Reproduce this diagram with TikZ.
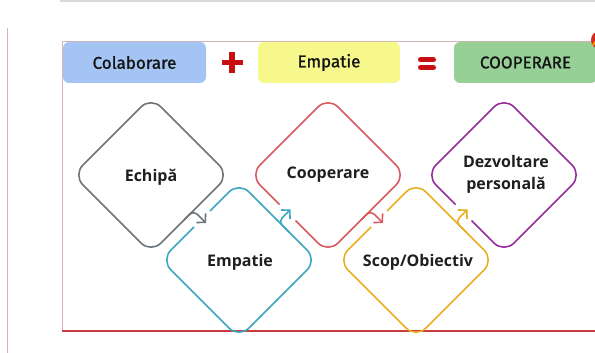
\documentclass[tikz,border=0pt]{standalone}
\usepackage{fontspec}
\setmainfont{Open Sans}
\newfontfamily\boxfont{Fira Sans}[FakeBold=1.2]
\usetikzlibrary{arrows.meta,calc}
\definecolor{cgray}{RGB}{108,116,122}
\definecolor{cteal}{RGB}{58,168,192}
\definecolor{cred}{RGB}{217,90,95}
\definecolor{cyel}{RGB}{232,176,32}
\definecolor{cpur}{RGB}{150,45,155}
\definecolor{bblue}{RGB}{164,196,244}
\definecolor{byel}{RGB}{246,248,140}
\definecolor{bgreen}{RGB}{150,208,150}
\definecolor{signred}{RGB}{200,16,16}
\definecolor{framepink}{RGB}{215,180,180}
\definecolor{framered}{RGB}{200,60,60}
\definecolor{badgered}{RGB}{215,40,30}
\tikzset{
  dia/.style={line width=1.6pt, rounded corners=14pt},
  arr/.style={line width=1.6pt, rounded corners=5pt, -{Straight Barb[length=6pt,width=13pt]}},
  lbl/.style={font=\bfseries\fontsize{16}{22}\selectfont, text=black!88, align=center},
  topbox/.style={rounded corners=6pt, minimum height=41pt, inner sep=0pt, text=black!92,
    font=\boxfont\fontsize{17}{20}\selectfont},
}
\begin{document}
\begin{tikzpicture}[x=1pt,y=-1pt]
\useasboundingbox (0,0) rectangle (595,353);
% page lines
\draw[gray!30, line width=1.5pt] (60,1) -- (595,1);
\draw[framepink, line width=1pt] (7,28) -- (7,353);
% frame
\draw[framepink, line width=0.8pt] (62,41) -- (595,41);
\draw[framepink, line width=1pt] (62,41) -- (62,331);
\draw[framered, line width=2pt] (62,331) -- (595,331);
% top equation
\node[topbox, fill=bblue, minimum width=143pt] (b1) at (134.5,62.5) {Colaborare};
\node[topbox, fill=byel, minimum width=142pt] (b2) at (329,62.5) {Empatie};
\node[topbox, fill=bgreen, minimum width=143pt] (b3) at (525.5,62.5) {COOPERARE};
\draw[signred, line width=5.5pt] (221.5,62.5) -- (242.5,62.5) (232,52) -- (232,73);
\draw[signred, line width=5pt, line cap=round] (420.5,59.8) -- (433.5,59.8) (420.5,67.5) -- (433.5,67.5);
\fill[badgered] (600,40) circle (9);
\draw[orange!70!yellow, line width=1.8pt] (593,45) -- (599,37);
% diamond centres
\coordinate (c1) at (151,175);
\coordinate (c2) at (239,260);
\coordinate (c3) at (328,175);
\coordinate (c4) at (416,260);
\coordinate (c5) at (504,175);
% Echipa
\begin{scope}[shift={(c1)}]
\draw[dia, cgray] (-39,-39) -- (0,-78) -- (78,0) -- (0,78) -- (-78,0) -- cycle;
\end{scope}
% Empatie (gap on upper-left edge)
\begin{scope}[shift={(c2)}]
\draw[dia, cteal] (-29,-49) -- (0,-78) -- (78,0) -- (0,78) -- (-78,0) -- (-45,-33);
\end{scope}
% Cooperare (gap on lower-left edge)
\begin{scope}[shift={(c3)}]
\draw[dia, cred] (-48.5,29.5) -- (-78,0) -- (0,-78) -- (78,0) -- (0,78) -- (-32.5,45.5);
\end{scope}
% Scop/Obiectiv
\begin{scope}[shift={(c4)}]
\draw[dia, cyel] (-29,-49) -- (0,-78) -- (78,0) -- (0,78) -- (-78,0) -- (-45,-33);
\end{scope}
% Dezvoltare personala
\begin{scope}[shift={(c5)}]
\draw[dia, cpur] (-48.5,29.5) -- (-78,0) -- (0,-78) -- (78,0) -- (0,78) -- (-32.5,45.5);
\end{scope}
% arrows
\draw[arr, cgray] ($(c1)+(33,45)$) -- ($(c1)+(42.5,35.5)$) -- ($(c1)+(55,48)$);
\draw[arr, cteal] ($(c2)+(50,-28)$) -- ($(c2)+(39.5,-38.5)$) -- ($(c2)+(51.5,-50.5)$);
\draw[arr, cred] ($(c3)+(33,45)$) -- ($(c3)+(42.5,35.5)$) -- ($(c3)+(55,48)$);
\draw[arr, cyel] ($(c4)+(50,-28)$) -- ($(c4)+(39.5,-38.5)$) -- ($(c4)+(51.5,-50.5)$);
% labels
\node[lbl] (t1) at (151,177) {Echipă};
\node[lbl] (t2) at (240,262) {Empatie};
\node[lbl] (t3) at (328,175) {Cooperare};
\node[lbl] (t4) at (418,262) {Scop/Obiectiv};
\node[lbl] (t5) at (506,174) {Dezvoltare\\personală};
\end{tikzpicture}
\end{document}
